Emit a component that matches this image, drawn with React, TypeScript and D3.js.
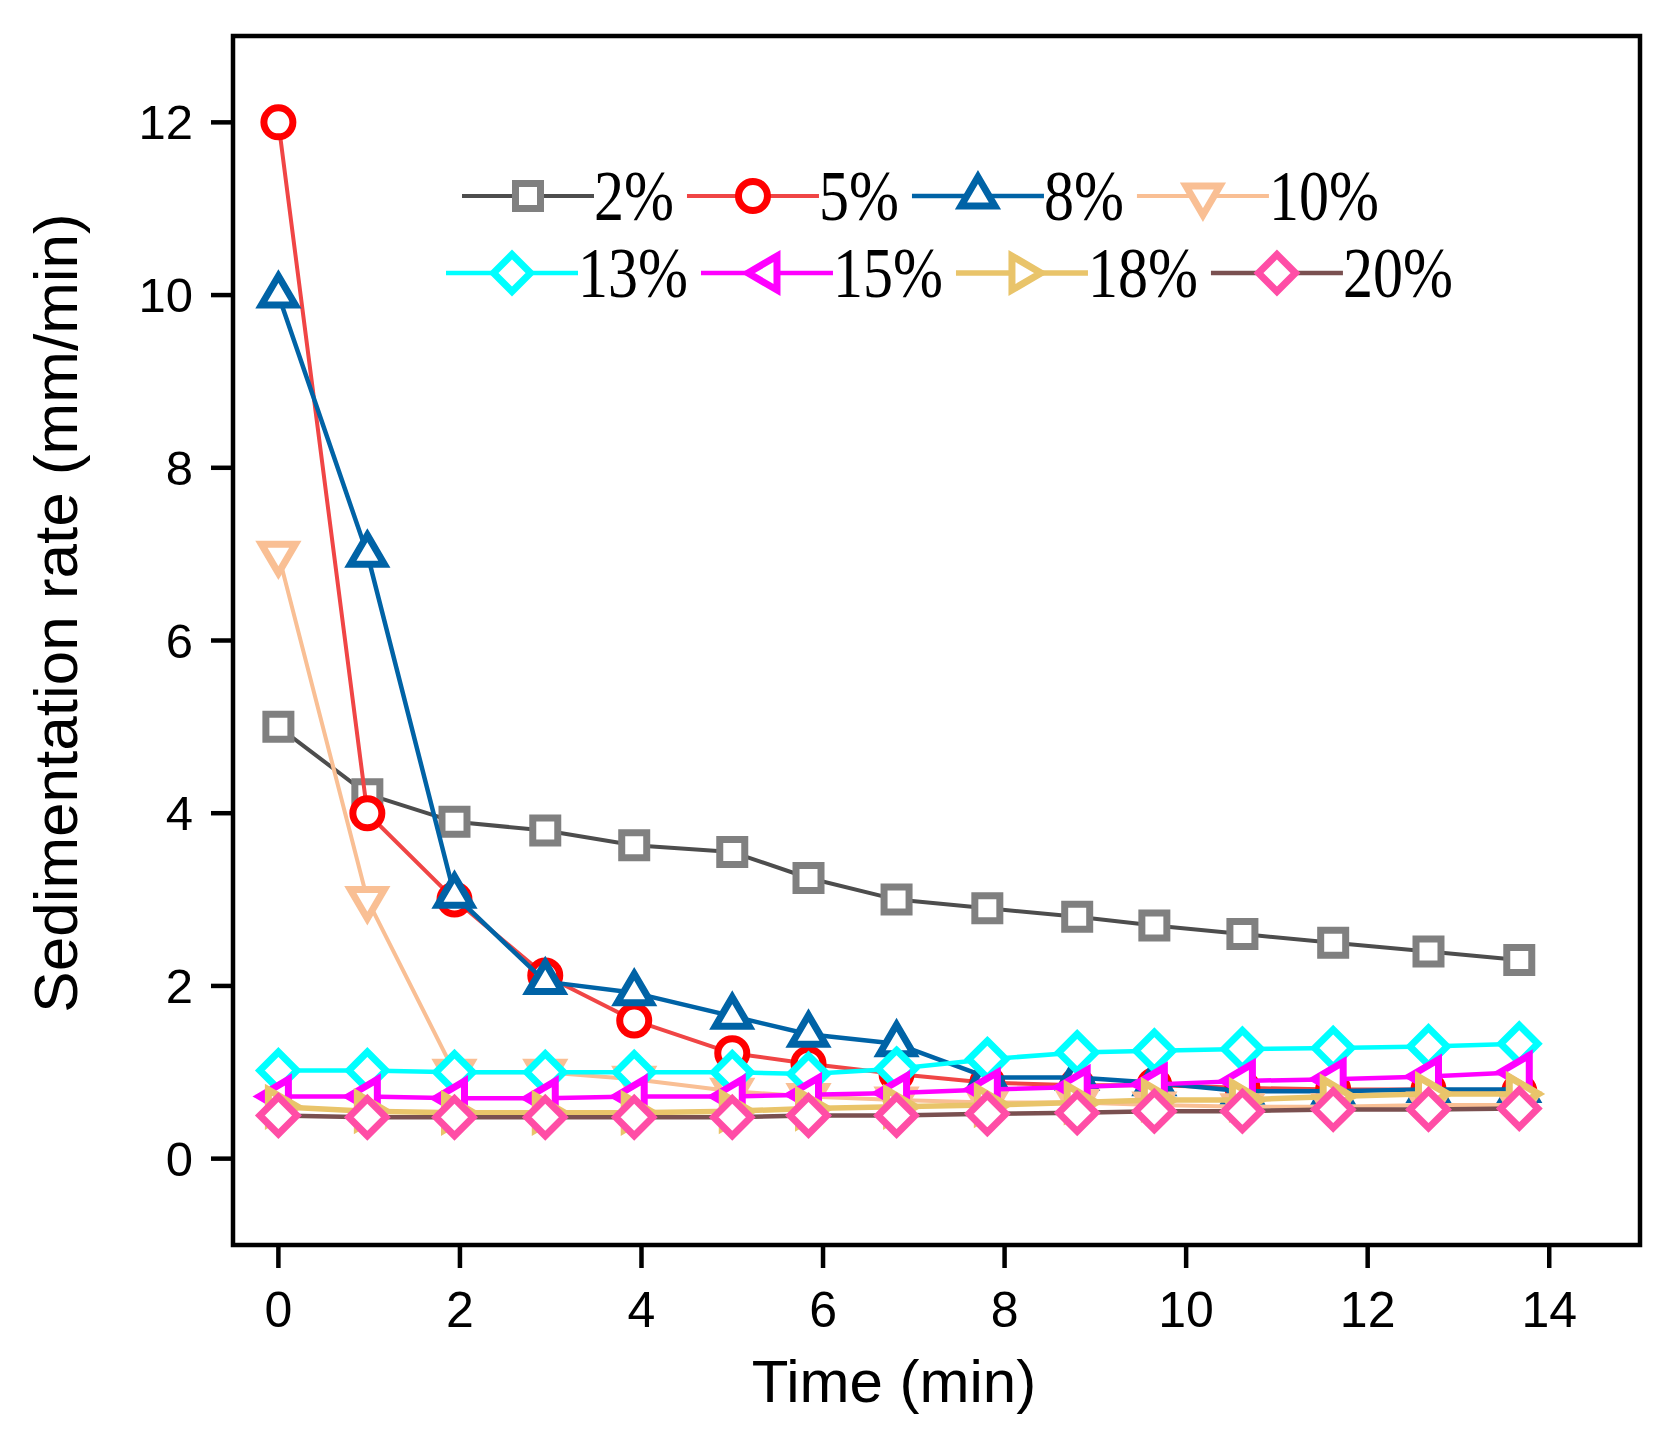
import React from "react";
import * as d3 from "d3";

const timeMin = [0, 0.98, 1.94, 2.94, 3.92, 5.0, 5.84, 6.81, 7.81, 8.8, 9.65, 10.62, 11.62, 12.67, 13.67];

const s2 = [5.0, 4.22, 3.9, 3.8, 3.63, 3.55, 3.25, 3.0, 2.9, 2.8, 2.7, 2.6, 2.5, 2.4, 2.3];
const s5 = [12.0, 4.0, 3.0, 2.12, 1.6, 1.22, 1.1, 0.98, 0.88, 0.85, 0.85, 0.82, 0.8, 0.8, 0.78];
const s8 = [10.0, 7.0, 3.05, 2.05, 1.92, 1.65, 1.44, 1.33, 0.94, 0.94, 0.88, 0.78, 0.78, 0.8, 0.8];
const s10 = [7.0, 3.0, 1.0, 1.0, 0.92, 0.78, 0.72, 0.68, 0.65, 0.65, 0.62, 0.6, 0.6, 0.62, 0.62];
const s13 = [1.02, 1.02, 1.0, 1.0, 1.0, 1.0, 0.98, 1.04, 1.15, 1.23, 1.25, 1.27, 1.28, 1.3, 1.33];
const s15 = [0.72, 0.72, 0.7, 0.7, 0.72, 0.72, 0.74, 0.76, 0.8, 0.83, 0.86, 0.9, 0.92, 0.95, 1.0];
const s18 = [0.6, 0.55, 0.53, 0.53, 0.53, 0.55, 0.58, 0.6, 0.62, 0.65, 0.68, 0.68, 0.72, 0.75, 0.75];
const s20 = [0.5, 0.48, 0.48, 0.48, 0.48, 0.48, 0.5, 0.5, 0.52, 0.53, 0.55, 0.55, 0.57, 0.57, 0.58];

const seriesNames = ["2%", "5%", "8%", "10%", "13%", "15%", "18%", "20%"];
const seriesValues = [s2, s5, s8, s10, s13, s15, s18, s20];
const lineColors = ["#4d4d4d", "#f04545", "#0063a6", "#f9bf94", "#00ffff", "#ff00ff", "#e9c46a", "#7a5050"];
const markerColors = ["#808080", "#ff0000", "#0063a6", "#f9bf94", "#00ffff", "#ff00ff", "#e9c46a", "#ff4da6"];
const markerShapes = ["square", "circle", "triUp", "triDown", "diamond", "triLeft", "triRight", "diamond"];
const lineWidths = [4, 4, 4.5, 4, 4.5, 4.5, 5.5, 4.5];

const xTicks = [0, 2, 4, 6, 8, 10, 12, 14];
const yTicks = [0, 2, 4, 6, 8, 10, 12];

const W = 1670;
const H = 1430;
const frame = { left: 233, top: 36, right: 1640, bottom: 1245 };

function markerPath(shape: string): string {
  switch (shape) {
    case "square": {
      const s = 12.5;
      return `M${-s},${-s}H${s}V${s}H${-s}Z`;
    }
    case "circle": {
      const r = 14.5;
      return `M${-r},0A${r},${r} 0 1,0 ${r},0A${r},${r} 0 1,0 ${-r},0Z`;
    }
    case "triUp":
      return `M0,-19L17,10L-17,10Z`;
    case "triDown":
      return `M0,19L17,-10L-17,-10Z`;
    case "triLeft":
      return `M-19,0L10,-17L10,17Z`;
    case "triRight":
      return `M19,0L-10,-17L-10,17Z`;
    case "diamond":
    default: {
      const d = 18.5;
      return `M0,${-d}L${d},0L0,${d}L${-d},0Z`;
    }
  }
}

function measure(text: string, font: string): number {
  const c = document.createElement("canvas");
  const ctx = c.getContext("2d");
  if (!ctx) return text.length * 30;
  ctx.font = font;
  return ctx.measureText(text).width;
}

export default function App() {
  const x = d3.scaleLinear().domain([-0.5, 15]).range([frame.left, frame.right]);
  const y = d3.scaleLinear().domain([-1, 13]).range([frame.bottom, frame.top]);

  const line = d3
    .line<number>()
    .x((_, i) => x(timeMin[i]))
    .y((v) => y(v));

  const legendFontSize = 60;
  const legendFont = `${legendFontSize}px "Liberation Serif", "Times New Roman", serif`;
  const lineLen = 132;
  const gap = 13;
  const rows = [
    { start: 462, cy: 196, items: [0, 1, 2, 3] },
    { start: 446, cy: 273, items: [4, 5, 6, 7] },
  ];
  const legendItems: { idx: number; x0: number; cy: number }[] = [];
  rows.forEach((row) => {
    let cx = row.start;
    row.items.forEach((idx) => {
      legendItems.push({ idx, x0: cx, cy: row.cy });
      cx += lineLen + measure(seriesNames[idx], legendFont) + gap;
    });
  });

  const sansFont = '"Liberation Sans", Arial, sans-serif';
  const mStroke = 7;

  return (
    <svg
      width={W}
      height={H}
      viewBox={`0 0 ${W} ${H}`}
      style={{ position: "absolute", left: 0, top: 0, background: "#fff" }}
    >
      <rect x={0} y={0} width={W} height={H} fill="#fff" />

      {seriesValues.map((vals, si) => (
        <g key={seriesNames[si]}>
          <path
            d={line(vals) || ""}
            fill="none"
            stroke={lineColors[si]}
            strokeWidth={lineWidths[si]}
            strokeLinejoin="round"
          />
          {vals.map((v, i) => (
            <path
              key={i}
              d={markerPath(markerShapes[si])}
              transform={`translate(${x(timeMin[i])},${y(v)})`}
              fill="#fff"
              stroke={markerColors[si]}
              strokeWidth={mStroke}
              strokeLinejoin="miter"
            />
          ))}
        </g>
      ))}

      <rect
        x={frame.left}
        y={frame.top}
        width={frame.right - frame.left}
        height={frame.bottom - frame.top}
        fill="none"
        stroke="#000"
        strokeWidth={4.5}
      />

      {xTicks.map((t) => (
        <g key={`xt${t}`}>
          <line x1={x(t)} x2={x(t)} y1={frame.bottom} y2={frame.bottom + 23} stroke="#000" strokeWidth={4.5} />
          <text x={x(t)} y={1327} textAnchor="middle" fontFamily={sansFont} fontSize={50} fill="#000">
            {t}
          </text>
        </g>
      ))}

      {yTicks.map((t) => (
        <g key={`yt${t}`}>
          <line x1={frame.left} x2={frame.left - 22} y1={y(t)} y2={y(t)} stroke="#000" strokeWidth={4.5} />
          <text x={193} y={y(t) + 17} textAnchor="end" fontFamily={sansFont} fontSize={49} fill="#000">
            {t}
          </text>
        </g>
      ))}

      <text x={894} y={1402} textAnchor="middle" fontFamily={sansFont} fontSize={60} fill="#000">
        Time (min)
      </text>
      <text
        transform={`translate(77,613) rotate(-90)`}
        textAnchor="middle"
        fontFamily={sansFont}
        fontSize={62}
        fill="#000"
      >
        Sedimentation rate (mm/min)
      </text>

      {legendItems.map(({ idx, x0, cy }) => (
        <g key={`lg${idx}`}>
          <line
            x1={x0}
            x2={x0 + lineLen}
            y1={cy}
            y2={cy}
            stroke={lineColors[idx]}
            strokeWidth={lineWidths[idx]}
          />
          <path
            d={markerPath(markerShapes[idx])}
            transform={`translate(${x0 + lineLen / 2},${cy})`}
            fill="#fff"
            stroke={markerColors[idx]}
            strokeWidth={mStroke}
          />
          <text
            transform={`translate(${x0 + lineLen},${cy + 24}) scale(1,1.2)`}
            fontFamily='"Liberation Serif", "Times New Roman", serif'
            fontSize={legendFontSize}
            fill="#000"
          >
            {seriesNames[idx]}
          </text>
        </g>
      ))}
    </svg>
  );
}
